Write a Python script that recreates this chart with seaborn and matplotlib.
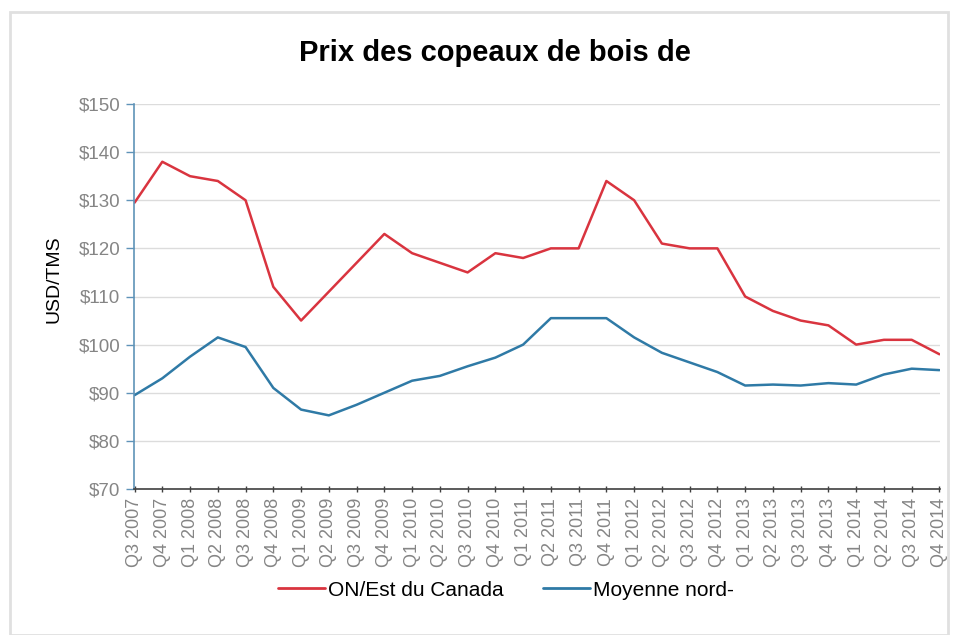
import matplotlib
matplotlib.use('Agg')
import matplotlib.pyplot as plt
import seaborn as sns
import pandas as pd
from matplotlib.patches import Rectangle

quarters = ['Q3 2007', 'Q4 2007', 'Q1 2008', 'Q2 2008', 'Q3 2008', 'Q4 2008',
            'Q1 2009', 'Q2 2009', 'Q3 2009', 'Q4 2009', 'Q1 2010', 'Q2 2010',
            'Q3 2010', 'Q4 2010', 'Q1 2011', 'Q2 2011', 'Q3 2011', 'Q4 2011',
            'Q1 2012', 'Q2 2012', 'Q3 2012', 'Q4 2012', 'Q1 2013', 'Q2 2013',
            'Q3 2013', 'Q4 2013', 'Q1 2014', 'Q2 2014', 'Q3 2014', 'Q4 2014']
on_est = [129.5, 138, 135, 134, 130, 112, 105, 111, 117, 123, 119, 117, 115, 119, 118,
          120, 120, 134, 130, 121, 120, 120, 110, 107, 105, 104, 100, 101, 101, 98]
moyenne = [89.5, 93, 97.5, 101.5, 99.5, 91, 86.5, 85.3, 87.5, 90, 92.5, 93.5, 95.5, 97.3, 100,
           105.5, 105.5, 105.5, 101.5, 98.3, 96.3, 94.3, 91.5, 91.7, 91.5, 92, 91.7, 93.8, 95, 94.7]
series_names = ['ON/Est du Canada', 'Moyenne nord-']
colors = ['#d9343f', '#2f7aa6']

df = pd.DataFrame({'Trimestre': quarters * 2,
                   'Prix': on_est + moyenne,
                   'Série': [series_names[0]] * len(quarters) + [series_names[1]] * len(quarters)})

sns.set_style('white')
plt.rcParams['font.family'] = ['Liberation Sans', 'DejaVu Sans']

fig = plt.figure(figsize=(9.56, 6.35), dpi=100)
ax = fig.add_axes([134 / 956, 1 - 489 / 635, (940 - 134) / 956, (489 - 104) / 635])

sns.lineplot(data=df, x='Trimestre', y='Prix', hue='Série', palette=colors,
             sort=False, linewidth=1.8, ax=ax, legend=False)

ax.set_ylim(70, 150)
ax.set_xlim(-0.02, len(quarters) - 1 + 0.02)
ax.set_yticks(range(70, 151, 10))
ax.set_yticklabels([f'${v}' for v in range(70, 151, 10)], color='#858585', fontsize=13.5)
ax.set_xticks(range(len(quarters)))
ax.set_xticklabels(quarters, rotation=90, color='#858585', fontsize=13)
ax.yaxis.grid(True, color='#dcdcdc', linewidth=1)
ax.set_xlabel('')
ax.set_ylabel('USD/TMS', fontsize=14, color='black')
ax.yaxis.set_label_coords(-0.089, 0.545)

for s in ['top', 'right']:
    ax.spines[s].set_visible(False)
ax.spines['left'].set_color('#5f93b8')
ax.spines['left'].set_linewidth(1.2)
ax.spines['bottom'].set_color('#404040')
ax.spines['bottom'].set_linewidth(1.2)
ax.tick_params(axis='y', length=6, color='#5f93b8', width=1, direction='out', left=True, pad=4)
ax.tick_params(axis='x', length=5, color='#404040', width=1, direction='inout', bottom=True, pad=4)

fig.text(495 / 956, 1 - 53 / 635, 'Prix des copeaux de bois de', ha='center', va='center',
         fontsize=21, fontweight='bold', color='black')

handles = [plt.Line2D([], [], color=c, linewidth=2) for c in colors]
fig.legend(handles, series_names, loc='center', bbox_to_anchor=(506 / 956, 1 - 590 / 635),
           ncol=2, frameon=False, fontsize=15, handlelength=2.25, handletextpad=0.15,
           columnspacing=1.9, labelcolor='black')

fig.patches.append(Rectangle((10 / 956, 0), 938 / 956, 1 - 12 / 635, transform=fig.transFigure,
                             fill=False, edgecolor='#e0e0e0', linewidth=2))

fig.savefig('out.png', dpi=100)
